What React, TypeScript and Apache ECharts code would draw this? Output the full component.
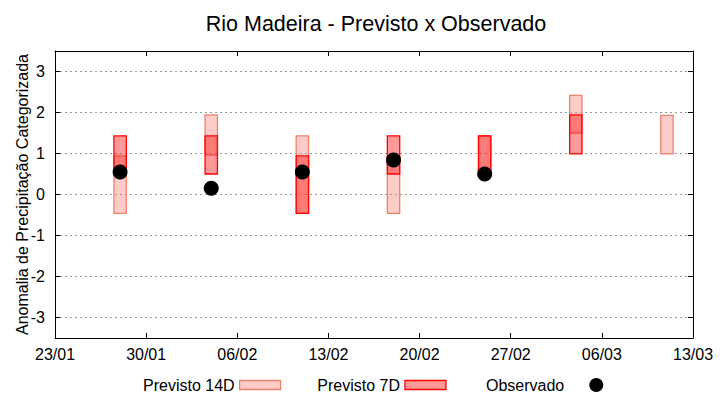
import React, { useEffect, useRef } from "react";
import * as echarts from "echarts";

const titleText = "Rio Madeira - Previsto x Observado";
const yAxisTitle = "Anomalia de Precipitação Categorizada";
const startDate = "2025-01-23";
const tickLabels = ["23/01", "30/01", "06/02", "13/02", "20/02", "27/02", "06/03", "13/03"];
const yTicks = [-3, -2, -1, 0, 1, 2, 3];

const dates = ["2025-01-28", "2025-02-04", "2025-02-11", "2025-02-18", "2025-02-25", "2025-03-04", "2025-03-11"];
const prev14Low = [-0.46, 0.96, -0.46, -0.46, 0.5, 1.5, 0.99];
const prev14High = [0.94, 1.94, 1.43, 0.94, 1.43, 2.42, 1.93];
const prev7Low = [0.5, 0.5, -0.46, 0.5, 0.5, 0.99, null];
const prev7High = [1.43, 1.43, 0.94, 1.43, 1.43, 1.94, null];
const observed = [0.55, 0.15, 0.55, 0.84, 0.5, null, null];

const FONT = "Liberation Sans, Arial, sans-serif";

function dayOffset(d: string): number {
  const [y, m, dd] = d.split("-").map(Number);
  const [y0, m0, d0] = startDate.split("-").map(Number);
  return Math.round((Date.UTC(y, m - 1, dd) - Date.UTC(y0, m0 - 1, d0)) / 86400000);
}

const days = dates.map(dayOffset);

function rangeData(lo: (number | null)[], hi: (number | null)[]) {
  const out: number[][] = [];
  days.forEach((x, i) => {
    if (lo[i] != null && hi[i] != null) out.push([x, lo[i] as number, hi[i] as number]);
  });
  return out;
}

function makeRender(fill: string, stroke: string) {
  return (params: any, api: any) => {
    const x = api.value(0);
    const lo = api.value(1);
    const hi = api.value(2);
    const top = api.coord([x, hi]);
    const bot = api.coord([x, lo]);
    const w = api.size([0.95, 0])[0];
    return {
      type: "rect",
      shape: { x: top[0] - w / 2, y: top[1], width: w, height: bot[1] - top[1] },
      style: { fill, stroke, lineWidth: 1.3 },
    };
  };
}

const c14Fill = "rgba(250,128,114,0.4)";
const c14Stroke = "#f08070";
const c7Fill = "rgba(255,0,0,0.4)";
const c7Stroke = "#ff0000";

export default function App() {
  const ref = useRef<HTMLDivElement>(null);
  useEffect(() => {
    if (!ref.current) return;
    const chart = echarts.init(ref.current, null, { renderer: "svg" });
    const obsData: number[][] = [];
    days.forEach((x, i) => {
      if (observed[i] != null) obsData.push([x, observed[i] as number]);
    });
    const axisLine = { show: true, onZero: false, lineStyle: { color: "#000", width: 1 } };
    chart.setOption({
      animation: false,
      textStyle: { fontFamily: FONT },
      title: {
        text: titleText,
        left: 371,
        textAlign: "center",
        top: 8,
        textStyle: { fontFamily: FONT, fontSize: 21.5, fontWeight: "normal", color: "#000" },
      },
      grid: { left: 55, right: 27, top: 51, bottom: 62, containLabel: false },
      legend: [
        {
          left: 138,
          top: 372,
          align: "right",
          itemWidth: 41,
          itemHeight: 9,
          itemGap: 36,
          textStyle: { fontFamily: FONT, fontSize: 16, color: "#000" },
          data: [
            { name: "Previsto 14D", icon: "rect", itemStyle: { color: c14Fill, borderColor: c14Stroke, borderWidth: 1.3 } },
            { name: "Previsto 7D", icon: "rect", itemStyle: { color: c7Fill, borderColor: c7Stroke, borderWidth: 1.3 } },
          ],
        },
        {
          left: 481,
          top: 372,
          align: "right",
          itemWidth: 54,
          itemHeight: 14,
          textStyle: { fontFamily: FONT, fontSize: 16, color: "#000" },
          data: [{ name: "Observado", icon: "circle", itemStyle: { color: "#000", opacity: 1 } }],
        },
      ],
      xAxis: [
        {
          type: "value",
          min: 0,
          max: 49,
          interval: 7,
          position: "bottom",
          axisLine,
          axisTick: { show: true, inside: true, length: 5, lineStyle: { color: "#000" } },
          axisLabel: {
            margin: 8,
            fontFamily: FONT,
            fontSize: 16,
            color: "#000",
            formatter: (v: number) => tickLabels[Math.round(v / 7)] ?? "",
          },
          splitLine: { show: false },
        },
        {
          type: "value",
          min: 0,
          max: 49,
          interval: 7,
          position: "top",
          axisLine,
          axisTick: { show: true, inside: true, length: 5, lineStyle: { color: "#000" } },
          axisLabel: { show: false },
          splitLine: { show: false },
        },
      ],
      yAxis: [
        {
          type: "value",
          min: -3.5,
          max: 3.5,
          position: "left",
          name: yAxisTitle,
          nameLocation: "middle",
          nameGap: 25,
          nameMoveOverlap: false,
          nameTextStyle: { fontFamily: FONT, fontSize: 16, color: "#000" },
          axisLine,
          axisTick: { show: true, inside: true, length: 5, customValues: yTicks, lineStyle: { color: "#000" } },
          axisLabel: { margin: 10, fontFamily: FONT, fontSize: 16, color: "#000", customValues: yTicks },
          splitLine: { show: true, lineStyle: { color: "#999", type: [2, 3], width: 1 } },
        },
        {
          type: "value",
          min: -3.5,
          max: 3.5,
          position: "right",
          axisLine,
          axisTick: { show: true, inside: true, length: 5, customValues: yTicks, lineStyle: { color: "#000" } },
          axisLabel: { show: false, customValues: yTicks },
          splitLine: { show: false },
        },
      ],
      series: [
        {
          name: "Previsto 14D",
          type: "custom",
          xAxisIndex: 0,
          yAxisIndex: 0,
          encode: { x: 0, y: [1, 2] },
          itemStyle: { color: c14Fill, borderColor: c14Stroke },
          renderItem: makeRender(c14Fill, c14Stroke),
          data: rangeData(prev14Low, prev14High),
          z: 2,
        },
        {
          name: "Previsto 7D",
          type: "custom",
          xAxisIndex: 0,
          yAxisIndex: 0,
          encode: { x: 0, y: [1, 2] },
          itemStyle: { color: c7Fill, borderColor: c7Stroke },
          renderItem: makeRender(c7Fill, c7Stroke),
          data: rangeData(prev7Low, prev7High),
          z: 3,
        },
        {
          name: "Observado",
          type: "scatter",
          xAxisIndex: 0,
          yAxisIndex: 0,
          symbol: "circle",
          symbolSize: 15,
          itemStyle: { color: "#000", opacity: 1 },
          data: obsData,
          z: 4,
        },
      ],
    });
    return () => chart.dispose();
  }, []);
  return <div ref={ref} style={{ position: "absolute", left: 0, top: 0, width: 720, height: 400 }} />;
}
